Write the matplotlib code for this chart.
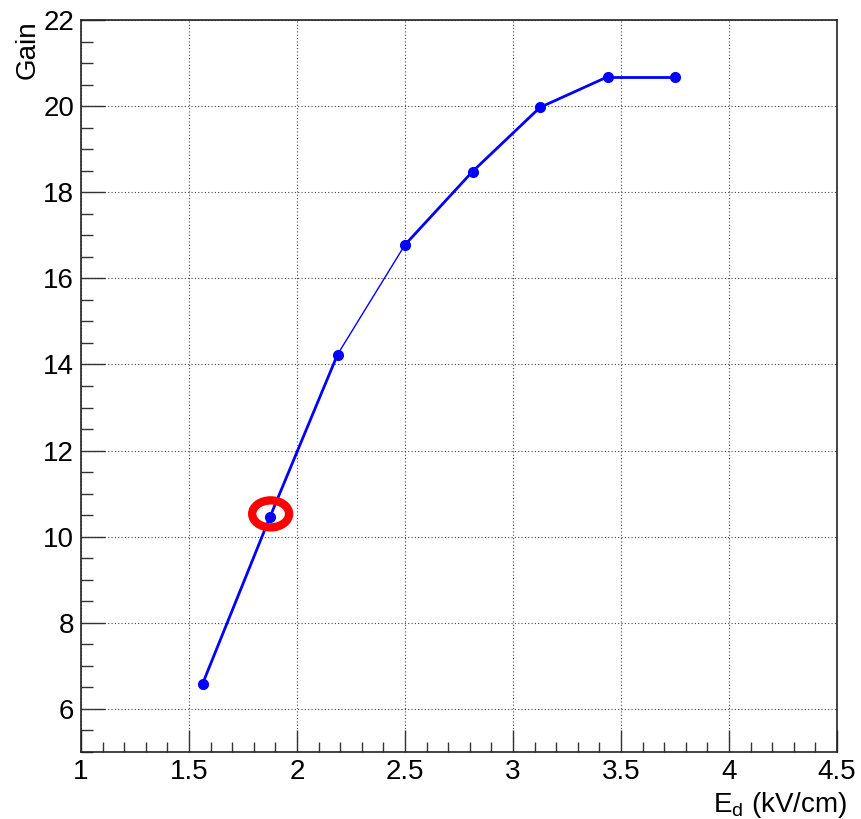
import numpy as np
import matplotlib.pyplot as plt
from matplotlib.patches import Ellipse
from matplotlib.ticker import MultipleLocator

plt.rcParams['font.family'] = ['Liberation Sans', 'DejaVu Sans']

# drift field (kV/cm) and measured gain
e_drift = [1.5625, 1.875, 2.1875, 2.5, 2.8125, 3.125, 3.4375, 3.75]
gain = [6.58, 10.46, 14.23, 16.78, 18.48, 19.97, 20.68, 20.68]

# highlighted point
mark_x, mark_y = 1.878, 10.53

fig = plt.figure(figsize=(8.61, 8.19), dpi=100)
ax = fig.add_axes([81 / 861, 1 - 752 / 819, 756 / 861, 732 / 819])

# ROOT draws segments one by one; one of them came out thinner
seg_lw = [2.0, 2.0, 1.0, 2.0, 2.0, 2.0, 2.0]
for i in range(len(e_drift) - 1):
    ax.plot(e_drift[i:i + 2], gain[i:i + 2], color='#0000ff', lw=seg_lw[i],
            solid_capstyle='round', zorder=3)
ax.plot(e_drift, gain, ls='none', marker='o', ms=7, color='#0000ff', zorder=4)

ax.add_patch(Ellipse((mark_x, mark_y), 0.171, 0.627, fill=False,
                     edgecolor='#ff0000', lw=6, zorder=5))

ax.set_xlim(1, 4.5)
ax.set_ylim(5, 22)
ax.xaxis.set_major_locator(MultipleLocator(0.5))
ax.xaxis.set_minor_locator(MultipleLocator(0.1))
ax.yaxis.set_major_locator(MultipleLocator(2))
ax.yaxis.set_minor_locator(MultipleLocator(0.5))
ax.xaxis.set_major_formatter(plt.FuncFormatter(lambda v, p: f'{v:g}'))

ax.tick_params(which='both', direction='in', top=False, right=False,
               labelsize=20, width=1.0, color='#333333')
ax.tick_params(axis='x', which='major', length=16, pad=5)
ax.tick_params(axis='x', which='minor', length=7.5)
ax.tick_params(axis='y', which='major', length=17, pad=5)
ax.tick_params(axis='y', which='minor', length=8.5)

ax.grid(which='major', ls=(0, (1, 2)), color='#444444', lw=0.8)
for s in ax.spines.values():
    s.set_linewidth(1.2)
    s.set_color('#222222')

fig.text(28 / 861, 1 - 20 / 819, 'Gain', rotation=90, ha='center', va='top',
         fontsize=20)
fig.text(847 / 861, 1 - 812 / 819, r'$\mathregular{E_d}$ (kV/cm)', ha='right',
         va='baseline', fontsize=20)

fig.savefig('out.png', dpi=100)
